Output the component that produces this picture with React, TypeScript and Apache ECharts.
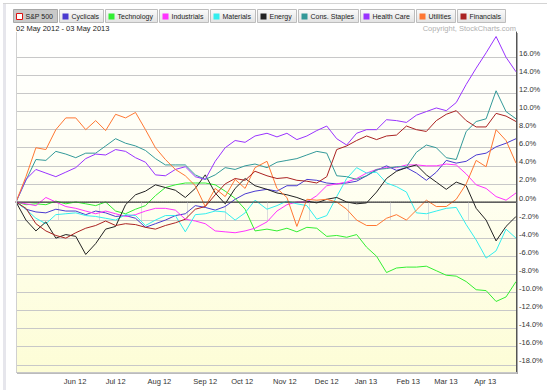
import React, { useEffect, useRef } from 'react';
import * as echarts from 'echarts';

// ---------- data ----------
const START = '2012-05-02';
const END = '2013-05-03';
const HOLIDAYS = [
  '2012-05-28', '2012-07-04', '2012-09-03', '2012-10-29', '2012-10-30', '2012-11-22',
  '2012-12-25', '2013-01-01', '2013-01-21', '2013-02-18', '2013-03-29',
];
const MONTHS = ['Jan', 'Feb', 'Mar', 'Apr', 'May', 'Jun', 'Jul', 'Aug', 'Sep', 'Oct', 'Nov', 'Dec'];

const BENCHMARK = 'S&P 500';
const SECTORS = ['Cyclicals', 'Technology', 'Industrials', 'Materials', 'Energy', 'Cons. Staples', 'Health Care', 'Utilities', 'Financials'];
const COLORS = ['#4a3ad0', '#33ee33', '#ff33ff', '#33eeee', '#222222', '#339999', '#9933ff', '#ff7733', '#aa2222'];

// relative performance vs S&P 500 (%), sampled roughly every 5 trading days
const CYCLICALS = [0, -0.8, -1.1, -1.2, -0.8, -1.0, -1.0, -1.4, -1.0, -1.2, -1.6, -1.5, -1.8, -2.8, -2.4, -2.0, -1.5, -1.3, -0.4, -0.6, -0.9, -0.5, 0.3, 0.9, 1.2, 1.4, 1.2, 1.8, 1.8, 2.5, 2.4, 2.1, 2.0, 2.1, 2.3, 2.9, 3.5, 4.0, 3.5, 3.8, 3.2, 2.4, 3.3, 4.6, 4.3, 4.5, 5.2, 5.4, 6.1, 6.5, 7.0];
const TECHNOLOGY = [0, -0.3, -0.2, -0.3, 0.1, -0.2, 0.0, -0.2, -0.4, 0.0, -1.0, -1.3, -0.8, -0.4, 0.7, 1.6, 1.9, 2.1, 2.1, 2.1, 1.9, 1.2, 0.4, -0.8, -3.2, -3.0, -3.2, -2.9, -3.3, -2.8, -2.9, -3.8, -3.7, -3.9, -3.6, -5.0, -6.0, -7.8, -7.3, -7.2, -7.2, -7.1, -7.6, -8.1, -8.2, -8.8, -9.7, -9.8, -11.0, -10.5, -8.8];
const INDUSTRIALS = [0, -0.2, -0.4, 0.5, 0.0, -0.5, -0.7, -1.0, -1.3, -1.0, -1.3, -1.6, -1.4, -1.0, -0.7, -0.7, -0.9, -1.9, -2.1, -2.4, -3.2, -3.3, -3.4, -3.2, -2.9, -2.2, -1.0, -0.3, 0.0, 0.0, 0.7, 1.8, 2.0, 2.2, 2.6, 3.2, 3.6, 3.8, 3.8, 4.1, 4.1, 4.0, 4.0, 4.2, 4.1, 3.1, 1.9, 1.5, 0.6, 0.2, 1.0];
const MATERIALS = [0, -0.8, -1.8, -2.4, -1.4, -1.3, -1.2, -1.5, -1.6, -1.8, -2.0, -1.4, -1.5, -2.6, -2.0, -1.5, -1.5, -3.3, -1.4, -1.3, -1.0, -1.1, -2.0, -1.2, 0.2, -0.8, -0.4, 0.1, -0.2, -0.4, -1.9, -1.5, 0.6, 2.6, 3.8, 3.2, 3.3, 2.1, 1.7, 1.1, -1.2, -1.3, -1.0, -0.7, -0.6, -2.5, -4.2, -6.2, -5.4, -3.0, -4.0];
const ENERGY = [0, -2.0, -3.2, -2.2, -4.0, -3.6, -3.8, -5.8, -4.6, -3.0, -2.7, -0.3, 0.8, 1.2, 1.9, 1.6, 1.3, 0.5, 1.5, 3.0, 1.0, -0.2, 1.5, 2.6, 1.8, 1.4, 1.0, 0.8, 0.5, 0.1, -0.1, 0.3, 0.5, 0.0, -0.2, -0.1, 1.1, 2.6, 3.4, 3.8, 4.1, 3.0, 2.2, 1.4, 2.2, 1.8, -0.7, -2.0, -4.3, -2.7, -1.6];
const CONS_STAPLES = [0, 2.4, 4.7, 4.6, 5.6, 5.3, 4.9, 5.4, 5.4, 6.2, 7.0, 6.5, 6.2, 5.7, 4.8, 4.1, 4.1, 4.1, 3.0, 2.5, 3.0, 3.8, 3.6, 4.0, 4.2, 3.8, 4.4, 4.6, 4.8, 5.2, 5.6, 5.4, 2.9, 2.8, 2.5, 2.9, 3.6, 3.7, 3.9, 3.9, 5.5, 6.3, 6.0, 4.9, 4.7, 7.8, 8.9, 9.2, 12.3, 10.0, 9.2];
const HEALTH_CARE = [0, 2.5, 3.6, 3.2, 2.8, 3.3, 3.8, 4.8, 5.3, 5.2, 5.8, 5.6, 4.9, 4.4, 3.0, 2.9, 3.6, 3.9, 2.8, 2.5, 4.5, 6.0, 6.8, 6.6, 7.3, 7.6, 7.2, 7.6, 6.9, 7.3, 7.9, 8.4, 7.0, 6.3, 7.6, 8.0, 8.0, 9.1, 9.0, 8.8, 9.6, 10.0, 10.4, 10.1, 11.0, 13.0, 14.8, 16.5, 18.3, 16.0, 14.4];
const UTILITIES = [0, 2.8, 6.0, 5.8, 8.0, 9.3, 9.3, 8.0, 9.0, 7.9, 9.7, 9.3, 9.9, 8.0, 6.0, 4.7, 3.6, 2.9, 1.8, -0.5, 1.5, 0.6, 2.5, 1.5, 3.8, 4.5, 1.5, 0.5, -2.7, 0.3, 0.2, 0.3, 0.0, -0.8, -2.0, -2.6, -2.6, -1.8, -1.4, -2.0, -0.9, 0.2, -0.5, -0.5, 0.3, 2.0, 4.6, 3.9, 8.0, 6.8, 4.3];
const FINANCIALS = [0, -0.7, -2.4, -3.2, -3.7, -4.0, -3.4, -2.9, -2.6, -2.1, -2.6, -2.4, -2.5, -2.8, -3.0, -2.6, -2.3, -1.9, -0.8, -0.5, 0.8, 2.0, 2.6, 2.4, 3.4, 2.9, 2.6, 2.7, 2.4, 2.3, 2.1, 2.8, 5.8, 6.2, 6.8, 7.3, 6.9, 7.3, 7.4, 8.4, 8.0, 7.8, 9.0, 9.7, 10.1, 9.0, 8.3, 8.3, 9.8, 9.5, 8.9];

const SECTOR_VALUES = [CYCLICALS, TECHNOLOGY, INDUSTRIALS, MATERIALS, ENERGY, CONS_STAPLES, HEALTH_CARE, UTILITIES, FINANCIALS];

const Y_MIN = -18.8;
const Y_MAX = 18.8;
const Y_LABEL_LIMIT = 17; // labels above this are not shown

const DATE_RANGE = '02 May 2012 - 03 May 2013';
const COPYRIGHT = 'Copyright, StockCharts.com';

// ---------- helpers ----------
function tradingDays(): string[] {
  const out: string[] = [];
  const d = new Date(START + 'T00:00:00Z');
  const end = new Date(END + 'T00:00:00Z');
  while (d <= end) {
    const wd = d.getUTCDay();
    const s = d.toISOString().slice(0, 10);
    if (wd !== 0 && wd !== 6 && HOLIDAYS.indexOf(s) < 0) out.push(s);
    d.setUTCDate(d.getUTCDate() + 1);
  }
  return out;
}

const FONT = '"Liberation Sans", Arial, sans-serif';

export default function App() {
  const ref = useRef<HTMLDivElement>(null);

  useEffect(() => {
    if (!ref.current) return;
    const chart = echarts.init(ref.current, undefined, { renderer: 'svg' });
    const days = tradingDays();
    const n = days.length;

    const isMonthStart = (i: number) =>
      i > 0 && i < n - 6 && days[i].slice(5, 7) !== days[i - 1].slice(5, 7);

    const spread = (vals: number[]) => {
      const arr: (number | null)[] = new Array(n).fill(null);
      const m = vals.length;
      vals.forEach((v, k) => {
        arr[Math.round((k * (n - 1)) / (m - 1))] = v;
      });
      return arr;
    };

    const series: any[] = [
      {
        name: BENCHMARK,
        type: 'line',
        data: days.map(() => 0),
        showSymbol: false,
        symbol: 'none',
        lineStyle: { width: 1, color: '#333' },
        itemStyle: { color: '#333' },
        z: 3,
      },
      ...SECTORS.map((name, i) => ({
        name,
        type: 'line',
        data: spread(SECTOR_VALUES[i]),
        connectNulls: true,
        showSymbol: false,
        symbol: 'none',
        lineStyle: { width: 1, color: COLORS[i] },
        itemStyle: { color: COLORS[i] },
        z: 2,
      })),
    ];

    // legend buttons (drawn)
    const canvas = document.createElement('canvas');
    const ctx = canvas.getContext('2d')!;
    ctx.font = '7px "Liberation Sans"';
    const legendEls: any[] = [];
    let lx = 13;
    [BENCHMARK, ...SECTORS].forEach((name, i) => {
      const w = Math.round(ctx.measureText(name).width + 16.8);
      const selected = i === 0;
      legendEls.push({
        type: 'rect',
        z: 6,
        shape: { x: lx + 0.5, y: 9.5, width: w, height: 13 },
        style: selected
          ? { fill: '#c9c9c9', stroke: '#a8a8a8', lineWidth: 1 }
          : {
              fill: { type: 'linear', x: 0, y: 0, x2: 0, y2: 1, colorStops: [{ offset: 0, color: '#fbfbfb' }, { offset: 1, color: '#e2e2e2' }] },
              stroke: '#bdbdbd',
              lineWidth: 1,
            },
      });
      legendEls.push({
        type: 'rect',
        z: 7,
        shape: { x: lx + 3.5, y: 13.5, width: 6, height: 6 },
        style: selected ? { fill: '#fff', stroke: '#dd1111', lineWidth: 1 } : { fill: COLORS[i - 1] },
      });
      legendEls.push({
        type: 'text',
        z: 7,
        x: lx + 12.5,
        y: 16.5,
        style: { text: name, fontSize: 7, fontFamily: FONT, fill: '#222', verticalAlign: 'middle' },
      });
      lx += w + 2;
    });

    const gTop = 32;
    const gBottom = 372;
    const yPix = (v: number) => gTop + ((Y_MAX - v) / (Y_MAX - Y_MIN)) * (gBottom - gTop);

    const option: any = {
      animation: false,
      grid: { left: 16, right: 34, top: gTop, bottom: 390 - gBottom },
      xAxis: {
        type: 'category',
        data: days,
        boundaryGap: false,
        axisLine: { show: true, lineStyle: { color: '#8a8a8a', width: 1 } },
        axisTick: { show: true, interval: (i: number) => isMonthStart(i), length: 18, lineStyle: { color: '#dcdcdc' } },
        axisLabel: {
          interval: (i: number) => isMonthStart(i),
          formatter: (v: string) => `${MONTHS[parseInt(v.slice(5, 7), 10) - 1]} ${v.slice(2, 4)}`,
          align: 'left',
          padding: [0, 0, 0, 6],
          margin: 5,
          fontSize: 7.5,
          fontFamily: FONT,
          color: '#333',
        },
        splitLine: { show: false },
      },
      yAxis: {
        type: 'value',
        position: 'right',
        min: Y_MIN,
        max: Y_MAX,
        splitNumber: 18,
        axisLine: { show: true, lineStyle: { color: '#555', width: 1 } },
        axisTick: { show: false },
        axisLabel: {
          showMinLabel: false,
          showMaxLabel: false,
          formatter: (v: number) => (v > Y_LABEL_LIMIT ? '' : v.toFixed(1) + '%'),
          verticalAlign: 'bottom',
          margin: 3,
          fontSize: 7.5,
          fontFamily: FONT,
          color: '#333',
        },
        splitLine: { show: true, lineStyle: { color: '#c8c8c8', width: 1 } },
      },
      graphic: [
        {
          type: 'rect',
          z: -10,
          silent: true,
          shape: { x: 16, y: gTop, width: 500, height: gBottom - gTop },
          style: {
            fill: {
              type: 'linear', x: 0, y: 0, x2: 0, y2: 1,
              colorStops: [
                { offset: 0, color: '#ffffff' },
                { offset: 0.45, color: '#fffff2' },
                { offset: 1, color: '#fdfdd6' },
              ],
            },
          },
        },
        // hide the top two grid lines (18% and the upper edge), as in the original
        { type: 'rect', z: 1, silent: true, shape: { x: 17, y: gTop - 1, width: 499, height: yPix(18) - gTop + 2.5 }, style: { fill: '#ffffff' } },
        { type: 'line', z: 5, silent: true, shape: { x1: 16.5, y1: gTop, x2: 16.5, y2: gBottom }, style: { stroke: '#d0d0d0', lineWidth: 1 } },
        { type: 'line', z: 5, silent: true, shape: { x1: 17, y1: gBottom + 1.5, x2: 518, y2: gBottom + 1.5 }, style: { stroke: '#bbbbbb', lineWidth: 1 } },
        { type: 'line', z: 5, silent: true, shape: { x1: 517.5, y1: gTop + 1, x2: 517.5, y2: gBottom + 2 }, style: { stroke: '#aaaaaa', lineWidth: 1 } },
        { type: 'rect', z: 5, silent: true, shape: { x: 3, y: 3, width: 3, height: 387 }, style: { fill: '#e6e6ec' } },
        { type: 'line', z: 5, silent: true, shape: { x1: 3, y1: 3.5, x2: 547, y2: 3.5 }, style: { stroke: '#d4d4d4', lineWidth: 1 } },
        {
          type: 'text', z: 6, x: 16, y: 28.5, silent: true,
          style: { text: DATE_RANGE, fontSize: 7.5, fontFamily: FONT, fill: '#222', verticalAlign: 'middle' },
        },
        {
          type: 'text', z: 6, x: 516, y: 28.5, silent: true,
          style: { text: COPYRIGHT, fontSize: 7.5, fontFamily: FONT, fill: '#b0b0b0', align: 'right', verticalAlign: 'middle' },
        },
        ...legendEls,
      ],
      series,
    };

    chart.setOption(option);
    return () => chart.dispose();
  }, []);

  return <div ref={ref} style={{ position: 'absolute', left: 0, top: 0, width: 550, height: 390, background: '#fff' }} />;
}
